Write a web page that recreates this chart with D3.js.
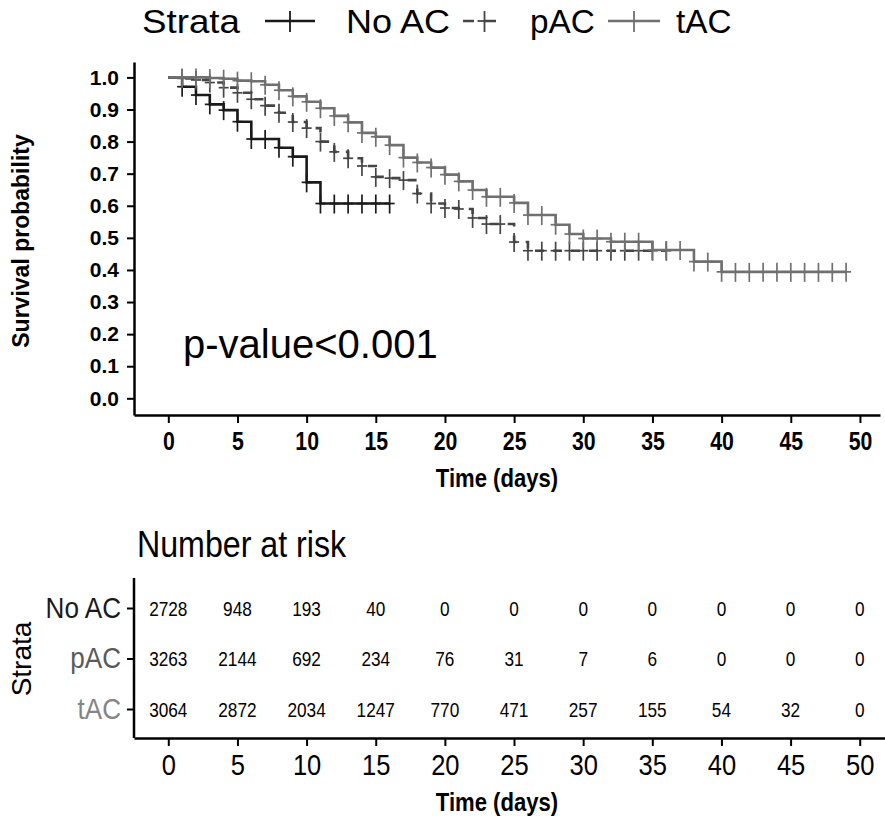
<!DOCTYPE html>
<html>
<head>
<meta charset="utf-8">
<script src="https://cdn.jsdelivr.net/npm/d3@7"></script>
<style>
  body { margin: 0; background: #fff; }
  svg { display: block; }
  .axis path, .axis line { stroke: #000; }
</style>
</head>
<body>
<svg id="chart" width="885" height="819"></svg>
<script>
// survival curves, value at each day
const noAcDays = [0,1,2,3,4,5,6,7,8,9,10,11,12,13,14,15,16];
const noAcSurv = [1.000,0.971,0.945,0.916,0.898,0.862,0.808,0.808,0.781,0.753,0.673,0.607,0.607,0.607,0.607,0.607,0.607];

const pacDays = [0,1,2,3,4,5,6,7,8,9,10,11,12,13,14,15,16,17,18,19,20,21,22,23,24,25,26,27,28,29,30,31,32,33,34,35,36];
const pacSurv = [1.000,0.997,0.992,0.984,0.968,0.952,0.932,0.912,0.890,0.861,0.842,0.800,0.768,0.748,0.724,0.690,0.686,0.680,0.638,0.607,
                 0.593,0.590,0.562,0.543,0.543,0.487,0.460,0.460,0.460,0.460,0.460,0.460,0.460,0.460,0.460,0.460,0.460];

const tacDays = [0,1,2,3,4,5,6,7,8,9,10,11,12,13,14,15,16,17,18,19,20,21,22,23,24,25,26,27,28,29,30,31,32,33,34,35,36,37,38,39,40,41,42,43,44,45,46,47,48,49];
const tacSurv = [1.000,1.000,1.000,0.998,0.996,0.990,0.988,0.977,0.960,0.941,0.924,0.904,0.880,0.860,0.827,0.815,0.789,0.750,0.735,0.719,
                 0.697,0.676,0.649,0.628,0.628,0.609,0.571,0.571,0.541,0.512,0.498,0.498,0.488,0.488,0.488,0.462,0.462,0.462,0.426,0.426,
                 0.394,0.394,0.394,0.394,0.394,0.394,0.394,0.394,0.394,0.394];

const strata = ["No AC", "pAC", "tAC"];
const strataColors = ["#1a1a1a", "#454545", "#707070"];
const rowLabelColors = ["#1a1a1a", "#5a5a5a", "#858585"];

// number at risk table
const riskDays = [0,5,10,15,20,25,30,35,40,45,50];
const riskNoAc = [2728,948,193,40,0,0,0,0,0,0,0];
const riskPac  = [3263,2144,692,234,76,31,7,6,0,0,0];
const riskTac  = [3064,2872,2034,1247,770,471,257,155,54,32,0];

const yTicks = [0,0.1,0.2,0.3,0.4,0.5,0.6,0.7,0.8,0.9,1.0];

const svg = d3.select("#chart");
svg.append("rect").attr("width", 885).attr("height", 819).attr("fill", "#fff");

const SANS = "'Liberation Sans', Arial, sans-serif";

// text stretched sideways, the picture's labels are not square
const squeezed = (px, py, str, size, sx, bold, anchor) =>
  svg.append("text")
    .attr("transform", `translate(${px},${py}) scale(${sx},1)`)
    .attr("text-anchor", anchor || "start")
    .attr("font-family", SANS)
    .attr("font-weight", bold ? "bold" : "normal")
    .attr("font-size", size)
    .text(str);

// ---------- top panel ----------
let x = d3.scaleLinear().domain([-2.48, 51.45]).range([134, 880]);
let y = d3.scaleLinear().domain([-0.052, 1.048]).range([415, 62]);

let yAxis = svg.append("g").attr("class", "axis")
  .attr("transform", "translate(134,0)")
  .call(d3.axisLeft(y).tickValues(yTicks).tickFormat(d3.format(".1f")).tickSize(7).tickPadding(8).tickSizeOuter(0));
yAxis.select(".domain").attr("stroke-width", 2.5);
yAxis.selectAll(".tick line").attr("stroke-width", 2);
yAxis.selectAll("text").attr("font-family", SANS).attr("font-weight", "bold").attr("font-size", 21).attr("fill", "#000");

let xAxis = svg.append("g").attr("class", "axis")
  .attr("transform", "translate(0,415)")
  .call(d3.axisBottom(x).tickValues(riskDays).tickSize(8).tickPadding(9).tickSizeOuter(0));
xAxis.select(".domain").attr("stroke-width", 2.5);
xAxis.selectAll(".tick line").attr("stroke-width", 2);
xAxis.selectAll("text")
  .attr("transform", "scale(0.85,1)")
  .attr("font-family", SANS).attr("font-weight", "bold").attr("font-size", 25).attr("fill", "#000");

svg.append("text")
  .attr("transform", "translate(29,241) rotate(-90)")
  .attr("text-anchor", "middle")
  .attr("font-family", SANS).attr("font-weight", "bold").attr("font-size", 23)
  .text("Survival probability");

squeezed(497, 487, "Time (days)", 26, 0.85, true, "middle");

const series = [
  { days: noAcDays, surv: noAcSurv, color: strataColors[0], dash: null },
  { days: pacDays,  surv: pacSurv,  color: strataColors[1], dash: "9,9" },
  { days: tacDays,  surv: tacSurv,  color: strataColors[2], dash: null }
];

const line = d3.line().curve(d3.curveStepAfter)
  .x(d => x(d[0])).y(d => y(d[1]));

series.forEach(s => {
  let pts = s.days.map((d, i) => [d, s.surv[i]]);
  svg.append("path")
    .datum(pts)
    .attr("d", line)
    .attr("fill", "none")
    .attr("stroke", s.color)
    .attr("stroke-width", 2.6)
    .attr("stroke-dasharray", s.dash);

  // censor marks (+)
  let marks = svg.append("g").attr("stroke", s.color).attr("stroke-width", 1.7);
  pts.filter(p => p[0] > 0).forEach(p => {
    marks.append("line")
      .attr("x1", x(p[0])).attr("x2", x(p[0]))
      .attr("y1", y(p[1]) - 9).attr("y2", y(p[1]) + 10);
    marks.append("line")
      .attr("x1", x(p[0]) - 5).attr("x2", x(p[0]) + 5)
      .attr("y1", y(p[1])).attr("y2", y(p[1]));
  });
});

svg.append("text")
  .attr("x", 183).attr("y", 358)
  .attr("font-family", SANS).attr("font-size", 40)
  .text("p-value<0.001");

// ---------- legend ----------
squeezed(142, 33, "Strata", 34, 1.08, false, "start");

const legendPos = [
  { k0: 265, k1: 315, tx: 346, sx: 1.06 },
  { k0: 463, k1: 506, tx: 530, sx: 0.98 },
  { k0: 608, k1: 660, tx: 676, sx: 0.98 }
];
strata.forEach((name, i) => {
  let p = legendPos[i];
  let cx = (p.k0 + p.k1) / 2;
  svg.append("line")
    .attr("x1", p.k0).attr("x2", p.k1).attr("y1", 21).attr("y2", 21)
    .attr("stroke", strataColors[i]).attr("stroke-width", 2.6)
    .attr("stroke-dasharray", series[i].dash ? "11,11" : null);
  svg.append("line")
    .attr("x1", cx).attr("x2", cx).attr("y1", 11).attr("y2", 32)
    .attr("stroke", strataColors[i]).attr("stroke-width", 1.8);
  svg.append("line")
    .attr("x1", cx - 7).attr("x2", cx + 7).attr("y1", 21).attr("y2", 21)
    .attr("stroke", strataColors[i]).attr("stroke-width", 1.8);
  squeezed(p.tx, 33, name, 34, p.sx, false, "start");
});

// ---------- risk table ----------
squeezed(137, 557, "Number at risk", 37, 0.87, false, "start");

let xr = d3.scaleLinear().domain([-2.48, 51.9]).range([134, 886]);
let yr = d3.scalePoint().domain(strata).range([608, 709]);

let rxAxis = svg.append("g").attr("class", "axis")
  .attr("transform", "translate(0,738)")
  .call(d3.axisBottom(xr).tickValues(riskDays).tickSize(8).tickPadding(8).tickSizeOuter(0));
rxAxis.select(".domain").attr("stroke-width", 2.5);
rxAxis.selectAll(".tick line").attr("stroke-width", 2);
rxAxis.selectAll("text")
  .attr("transform", "scale(0.88,1)")
  .attr("font-family", SANS).attr("font-size", 29).attr("fill", "#000");

let ryAxis = svg.append("g").attr("class", "axis")
  .attr("transform", "translate(134,0)")
  .call(d3.axisLeft(yr).tickSize(7).tickPadding(6).tickSizeOuter(0));
ryAxis.select(".domain").attr("d", "M0,578V738").attr("stroke-width", 2.5);
ryAxis.selectAll(".tick line").attr("stroke-width", 2);
ryAxis.selectAll("text")
  .attr("transform", "translate(-13,0) scale(0.9,1)")
  .attr("x", 0)
  .attr("font-family", SANS).attr("font-size", 29)
  .attr("fill", (d, i) => rowLabelColors[i]);

svg.append("text")
  .attr("transform", "translate(31,659) rotate(-90)")
  .attr("text-anchor", "middle")
  .attr("font-family", SANS).attr("font-size", 28)
  .text("Strata");

[riskNoAc, riskPac, riskTac].forEach((row, i) => {
  svg.append("g").selectAll("text")
    .data(row)
    .join("text")
    .attr("transform", (d, j) => `translate(${xr(riskDays[j])},${yr(strata[i])}) scale(0.82,1)`)
    .attr("dy", "0.36em")
    .attr("text-anchor", "middle")
    .attr("font-family", SANS).attr("font-size", 21)
    .text(d => d);
});

squeezed(497, 811, "Time (days)", 26, 0.85, true, "middle");
</script>
</body>
</html>
